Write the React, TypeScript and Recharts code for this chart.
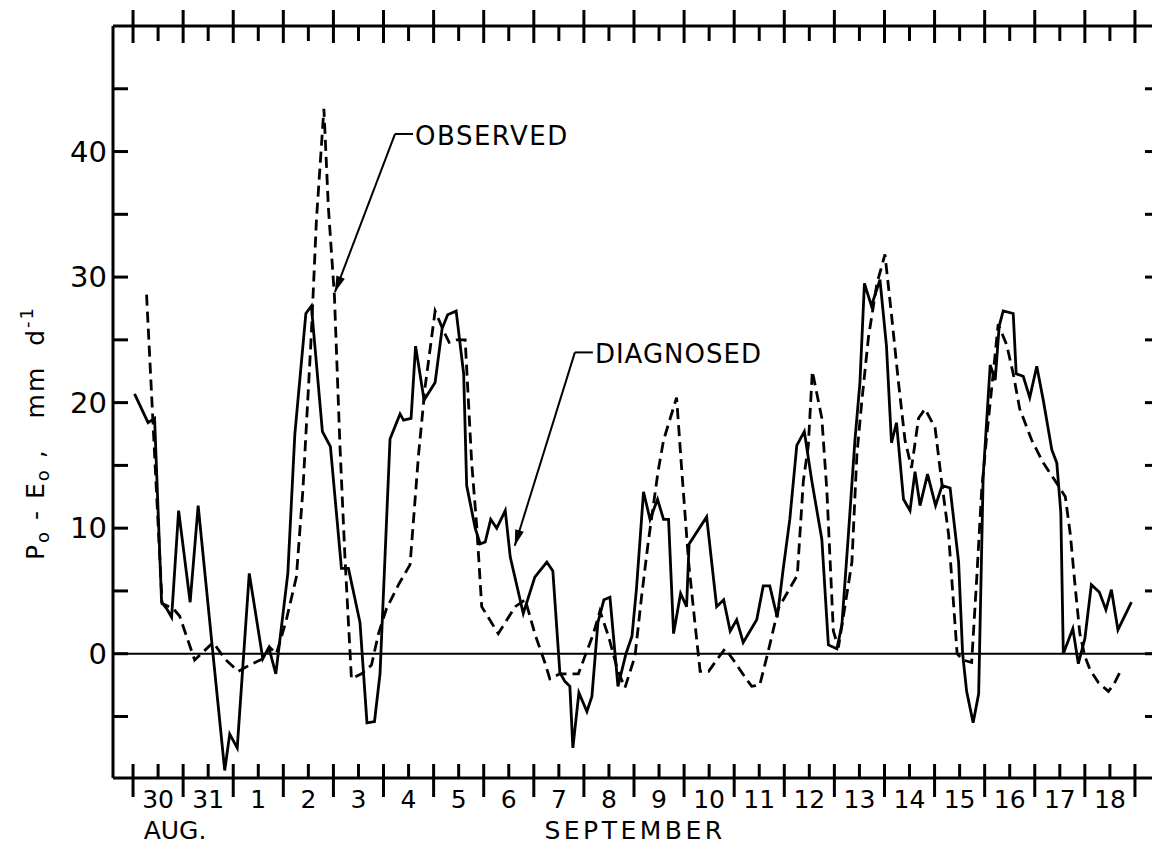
import React from 'react';
import { LineChart, Line, XAxis, YAxis, ReferenceLine } from 'recharts';

// time axis: days counted from 00Z 30 Aug
const diagnosedTime = [
  0.03, 0.3, 0.43, 0.57, 0.67, 0.77, 0.91, 1.14, 1.3, 1.56, 1.83, 1.93, 2.08, 2.32, 2.59, 2.71, 2.85,
  3.09, 3.23, 3.45, 3.56, 3.78, 3.94, 4.16, 4.3, 4.53, 4.67, 4.82, 4.93, 5.13, 5.33, 5.4, 5.55, 5.64,
  5.81, 6.03, 6.17, 6.28, 6.45, 6.6, 6.66, 6.83, 6.93, 7.03, 7.14, 7.26, 7.43, 7.53, 7.79, 8.02, 8.26,
  8.38, 8.52, 8.62, 8.72, 8.78, 8.9, 9.06, 9.16, 9.28, 9.4, 9.52, 9.68, 9.84, 9.96, 10.05, 10.19, 10.32,
  10.47, 10.59, 10.69, 10.79, 10.93, 11.05, 11.1, 11.45, 11.65, 11.79, 11.92, 12.05, 12.18, 12.45, 12.58,
  12.71, 12.86, 12.98, 13.11, 13.25, 13.4, 13.55, 13.75, 13.88, 14.05, 14.15, 14.28, 14.41, 14.51, 14.6,
  14.74, 14.91, 15.04, 15.14, 15.24, 15.38, 15.51, 15.61, 15.71, 15.86, 16.02, 16.15, 16.31, 16.48,
  16.56, 16.64, 16.77, 16.88, 16.97, 17.11, 17.21, 17.29, 17.37, 17.57, 17.63, 17.77, 17.9, 18.04,
  18.17, 18.34, 18.44, 18.52, 18.57, 18.76, 18.87, 19.0, 19.13, 19.29, 19.42, 19.53, 19.66, 19.93,
];
const diagnosedValue = [
  20.7, 18.4, 18.75, 4.1, 3.6, 2.9, 11.4, 4.1, 11.8, 1.4, -9.3, -6.4, -7.5, 6.4, -0.4, 0.5, -1.6,
  6.4, 17.5, 27.1, 27.7, 17.7, 16.5, 6.8, 6.8, 2.5, -5.5, -5.4, -1.6, 17.1, 19.1, 18.6, 18.75, 24.5,
  20.2, 21.6, 25.9, 27.0, 27.3, 22.3, 13.4, 10.0, 8.75, 8.9, 10.7, 10.0, 11.4, 7.7, 3.2, 6.1, 7.3,
  6.6, -1.5, -2.2, -2.6, -7.5, -3.1, -4.6, -3.4, 2.5, 4.3, 4.5, -2.6, 0.0, 1.4, 5.2, 12.9, 10.7,
  12.3, 10.7, 10.7, 1.6, 4.8, 3.75, 8.75, 10.9, 3.75, 4.3, 1.8, 2.7, 0.9, 2.7, 5.4,
  5.4, 2.9, 6.8, 10.7, 16.6, 17.7, 13.75, 9.1, 0.7, 0.4, 2.3, 9.5, 17.0, 21.6, 29.5,
  27.7, 29.8, 24.5, 16.8, 18.4, 12.3, 11.4, 14.5, 11.8, 14.3, 11.8, 13.4, 13.2, 7.3,
  0.0, -3.0, -5.5, -3.2, 14.1, 23.0, 21.8, 26.1, 27.3, 27.1, 22.3, 22.1, 20.4, 22.9,
  20.2, 16.25, 15.2, 11.25, 0.0, 2.0, -0.8, 1.2, 5.5, 4.9, 3.5, 5.1, 1.9, 4.1,
];

const observedTime = [
  0.27, 0.58, 0.8, 0.93, 1.23, 1.6, 1.83, 2.1, 2.33, 2.59, 2.73, 2.86, 2.93, 3.06, 3.26, 3.39, 3.56,
  3.66, 3.81, 3.9, 4.02, 4.13, 4.23, 4.36, 4.56, 4.76, 4.9, 5.06, 5.3, 5.53, 5.7, 5.83, 6.03, 6.2,
  6.31, 6.46, 6.63, 6.76, 6.86, 6.96, 7.29, 7.63, 7.83, 8.02, 8.22, 8.32, 8.52, 8.89, 9.19, 9.32,
  9.49, 9.68, 9.82, 10.02, 10.15, 10.28, 10.48, 10.59, 10.85, 10.95, 11.09, 11.22, 11.32, 11.49,
  11.65, 11.82, 12.02, 12.22, 12.35, 12.51, 12.68, 12.88, 13.08, 13.26, 13.38, 13.48, 13.56, 13.75,
  13.85, 13.98, 14.08, 14.21, 14.35, 14.45, 14.55, 14.68, 14.85, 15.01, 15.14, 15.28, 15.41, 15.54,
  15.68, 15.81, 16.01, 16.14, 16.28, 16.45, 16.57, 16.74, 16.84, 16.94, 17.04, 17.17, 17.27, 17.44,
  17.57, 17.7, 17.94, 18.17, 18.41, 18.61, 18.71, 18.81, 18.9, 19.0, 19.1, 19.27, 19.47, 19.57, 19.73,
];
const observedValue = [
  28.6, 4.0, 3.6, 3.0, -0.5, 0.9, -0.4, -1.4, -0.9, -0.4, 0.5, 0.0, 0.9, 2.7, 6.1, 13.0, 25.5,
  34.5, 43.4, 35.5, 28.5, 16.6, 7.7, -2.0, -1.6, -0.9, 1.6, 3.6, 5.5, 7.1, 15.9, 21.25, 27.3, 25.7,
  24.8, 25.0, 25.0, 15.2, 10.2, 3.75, 1.6, 3.75, 4.3, 1.6, -0.7, -2.0, -1.6, -1.6, 1.6, 3.4,
  1.4, -1.4, -2.7, -0.2, 4.5, 8.75, 14.5, 17.0, 20.4, 14.8, 7.3, 2.3, -1.4, -1.4,
  -0.5, 0.4, -0.7, -1.9, -2.6, -2.5, 0.2, 3.6, 5.0, 6.25, 13.75, 16.6, 22.5, 18.75,
  13.0, 1.8, 0.5, 3.75, 7.3, 15.9, 20.2, 25.2, 29.5, 31.8, 27.0, 21.6, 17.0, 14.8,
  18.75, 19.5, 18.0, 13.75, 9.5, 0.0, -0.5, -0.7, 5.9, 13.0, 17.3, 22.3, 26.25, 24.6,
  22.3, 19.5, 17.0, 15.2, 13.75, 12.5, 9.5, 5.2, 1.6, -0.2, -1.25, -2.3, -3.0, -2.5, -1.25,
];

const dayLabels = ['30', '31', '1', '2', '3', '4', '5', '6', '7', '8', '9', '10', '11', '12', '13', '14', '15', '16', '17', '18'];
const yTicks = [-5, 0, 5, 10, 15, 20, 25, 30, 35, 40, 45];
const yLabelled = [0, 10, 20, 30, 40];

const diagnosed = diagnosedTime.map((t, i) => ({ t, v: diagnosedValue[i] }));
const observed = observedTime.map((t, i) => ({ t, v: observedValue[i] }));
const xTicks = Array.from({ length: 41 }, (_, i) => i / 2);

const FONT = '"DejaVu Sans", sans-serif';
const W = 1175;
const H = 846;
const LEFT = 113;
const RIGHT = 1160;
const TOP = 26;
const BOTTOM = 778;
const X_MIN = -0.4;
const X_MAX = 20.5;
const Y_MIN = -9.9;
const Y_MAX = 50;
// room kept for each axis strip
const AX_BOTTOM = 40;
const AX_TOP = 20;
const AX_LEFT = 40;
const AX_RIGHT = 10;

const px = (t: number) => LEFT + ((t - X_MIN) / (X_MAX - X_MIN)) * (RIGHT - LEFT);
const py = (v: number) => TOP + ((Y_MAX - v) / (Y_MAX - Y_MIN)) * (BOTTOM - TOP);

const isWhole = (v: number) => Math.abs(v - Math.round(v)) < 1e-6;

function BottomTick(props: any) {
  const { x, y, payload } = props;
  const v = payload.value;
  if (isWhole(v)) {
    return <line x1={x} x2={x} y1={y - 14} y2={y + 19} stroke="#000" strokeWidth={3} />;
  }
  return (
    <g>
      <line x1={x} x2={x} y1={y - 14} y2={y} stroke="#000" strokeWidth={3} />
      <text x={x} y={y + 30} textAnchor="middle" fontSize={25} fontFamily={FONT} fill="#000">
        {dayLabels[Math.floor(v)]}
      </text>
    </g>
  );
}

function TopTick(props: any) {
  const { x, y, payload } = props;
  if (isWhole(payload.value)) {
    return <line x1={x} x2={x} y1={y - 16} y2={y + 17} stroke="#000" strokeWidth={3} />;
  }
  return <line x1={x} x2={x} y1={y} y2={y + 15} stroke="#000" strokeWidth={3} />;
}

function LeftTick(props: any) {
  const { x, y, payload } = props;
  const v = payload.value;
  return (
    <g>
      <line x1={x} x2={x + 15} y1={y} y2={y} stroke="#000" strokeWidth={3} />
      {yLabelled.includes(v) && (
        <text x={x - 6} y={y + 10} textAnchor="end" fontSize={29} fontFamily={FONT} fill="#000">
          {v}
        </text>
      )}
    </g>
  );
}

function RightTick(props: any) {
  const { x, y } = props;
  return <line x1={x - 15} x2={x} y1={y} y2={y} stroke="#000" strokeWidth={3} />;
}

function Arrow({ from, to }: { from: [number, number]; to: [number, number] }) {
  const [x1, y1] = from;
  const [x2, y2] = to;
  const len = Math.hypot(x2 - x1, y2 - y1);
  const ux = (x2 - x1) / len;
  const uy = (y2 - y1) / len;
  const hl = 16;
  const hw = 4.5;
  const bx = x2 - ux * hl;
  const by = y2 - uy * hl;
  return (
    <g>
      <line x1={x1} y1={y1} x2={x2} y2={y2} stroke="#000" strokeWidth={2} />
      <polygon
        points={`${x2},${y2} ${bx - uy * hw},${by + ux * hw} ${bx + uy * hw},${by - ux * hw}`}
        fill="#000"
      />
    </g>
  );
}

// annotation anchors in data units
const obsTip = { t: 4.03, v: 28.8 };
const obsKnee = { t: 5.23, v: 41.4 };
const diagTip = { t: 7.62, v: 8.6 };
const diagKnee = { t: 8.82, v: 24.0 };

export default function App() {
  return (
    <div
      style={{
        position: 'absolute',
        left: 0,
        top: 0,
        width: 1152,
        height: H,
        overflow: 'hidden',
        background: '#fff',
      }}
    >
      <LineChart
        width={W}
        height={H}
        margin={{
          top: TOP - AX_TOP,
          right: W - RIGHT - AX_RIGHT,
          bottom: H - BOTTOM - AX_BOTTOM,
          left: LEFT - AX_LEFT,
        }}
      >
        <XAxis
          xAxisId="bottom"
          type="number"
          dataKey="t"
          domain={[X_MIN, X_MAX]}
          allowDataOverflow
          ticks={xTicks}
          interval={0}
          height={AX_BOTTOM}
          tickSize={0}
          tickMargin={0}
          tick={(p: any) => <BottomTick {...p} />}
          axisLine={{ stroke: '#000', strokeWidth: 3 }}
        />
        <XAxis
          xAxisId="top"
          orientation="top"
          type="number"
          dataKey="t"
          domain={[X_MIN, X_MAX]}
          allowDataOverflow
          ticks={xTicks}
          interval={0}
          height={AX_TOP}
          tickSize={0}
          tickMargin={0}
          tick={(p: any) => <TopTick {...p} />}
          axisLine={{ stroke: '#000', strokeWidth: 3 }}
        />
        <YAxis
          yAxisId="left"
          type="number"
          domain={[Y_MIN, Y_MAX]}
          allowDataOverflow
          ticks={yTicks}
          interval={0}
          width={AX_LEFT}
          tickSize={0}
          tickMargin={0}
          tick={(p: any) => <LeftTick {...p} />}
          axisLine={{ stroke: '#000', strokeWidth: 3 }}
        />
        <YAxis
          yAxisId="right"
          orientation="right"
          type="number"
          domain={[Y_MIN, Y_MAX]}
          allowDataOverflow
          ticks={yTicks}
          interval={0}
          width={AX_RIGHT}
          tickSize={0}
          tickMargin={0}
          tick={(p: any) => <RightTick {...p} />}
          axisLine={{ stroke: '#000', strokeWidth: 3 }}
        />
        <ReferenceLine xAxisId="bottom" yAxisId="left" y={0} stroke="#000" strokeWidth={2} />
        <Line
          xAxisId="bottom"
          yAxisId="left"
          data={diagnosed}
          dataKey="v"
          type="linear"
          stroke="#000"
          strokeWidth={2.8}
          dot={false}
          isAnimationActive={false}
        />
        <Line
          xAxisId="bottom"
          yAxisId="left"
          data={observed}
          dataKey="v"
          type="linear"
          stroke="#000"
          strokeWidth={2.8}
          strokeDasharray="11 6"
          dot={false}
          isAnimationActive={false}
        />
      </LineChart>

      <svg
        width={1152}
        height={H}
        style={{ position: 'absolute', left: 0, top: 0, pointerEvents: 'none' }}
      >
        <text
          transform="translate(44, 560) rotate(-90)"
          fontSize={25}
          fontFamily={FONT}
          fill="#000"
          style={{ whiteSpace: 'pre' }}
          letterSpacing={2}
        >
          <tspan>P</tspan>
          <tspan fontSize={18} dy={5}>o</tspan>
          <tspan dy={-5}> - E</tspan>
          <tspan fontSize={18} dy={5}>o</tspan>
          <tspan dy={-5}> ,   mm  d</tspan>
          <tspan fontSize={18} dy={-11}>-1</tspan>
        </text>

        <text x={175} y={839} textAnchor="middle" fontSize={25} fontFamily={FONT} fill="#000">
          AUG.
        </text>
        <text
          x={635}
          y={839}
          textAnchor="middle"
          fontSize={25}
          fontFamily={FONT}
          fill="#000"
          letterSpacing={3.5}
        >
          SEPTEMBER
        </text>

        <Arrow from={[px(obsKnee.t), py(obsKnee.v)]} to={[px(obsTip.t), py(obsTip.v)]} />
        <line
          x1={px(obsKnee.t)}
          x2={px(obsKnee.t) + 18}
          y1={py(obsKnee.v)}
          y2={py(obsKnee.v)}
          stroke="#000"
          strokeWidth={2}
        />
        <text
          x={px(obsKnee.t) + 20}
          y={py(obsKnee.v) + 11}
          fontSize={26}
          fontFamily={FONT}
          fill="#000"
          letterSpacing={1.5}
        >
          OBSERVED
        </text>

        <Arrow from={[px(diagKnee.t), py(diagKnee.v)]} to={[px(diagTip.t), py(diagTip.v)]} />
        <line
          x1={px(diagKnee.t)}
          x2={px(diagKnee.t) + 18}
          y1={py(diagKnee.v)}
          y2={py(diagKnee.v)}
          stroke="#000"
          strokeWidth={2}
        />
        <text
          x={px(diagKnee.t) + 20}
          y={py(diagKnee.v) + 11}
          fontSize={26}
          fontFamily={FONT}
          fill="#000"
          letterSpacing={1}
        >
          DIAGNOSED
        </text>
      </svg>
    </div>
  );
}
